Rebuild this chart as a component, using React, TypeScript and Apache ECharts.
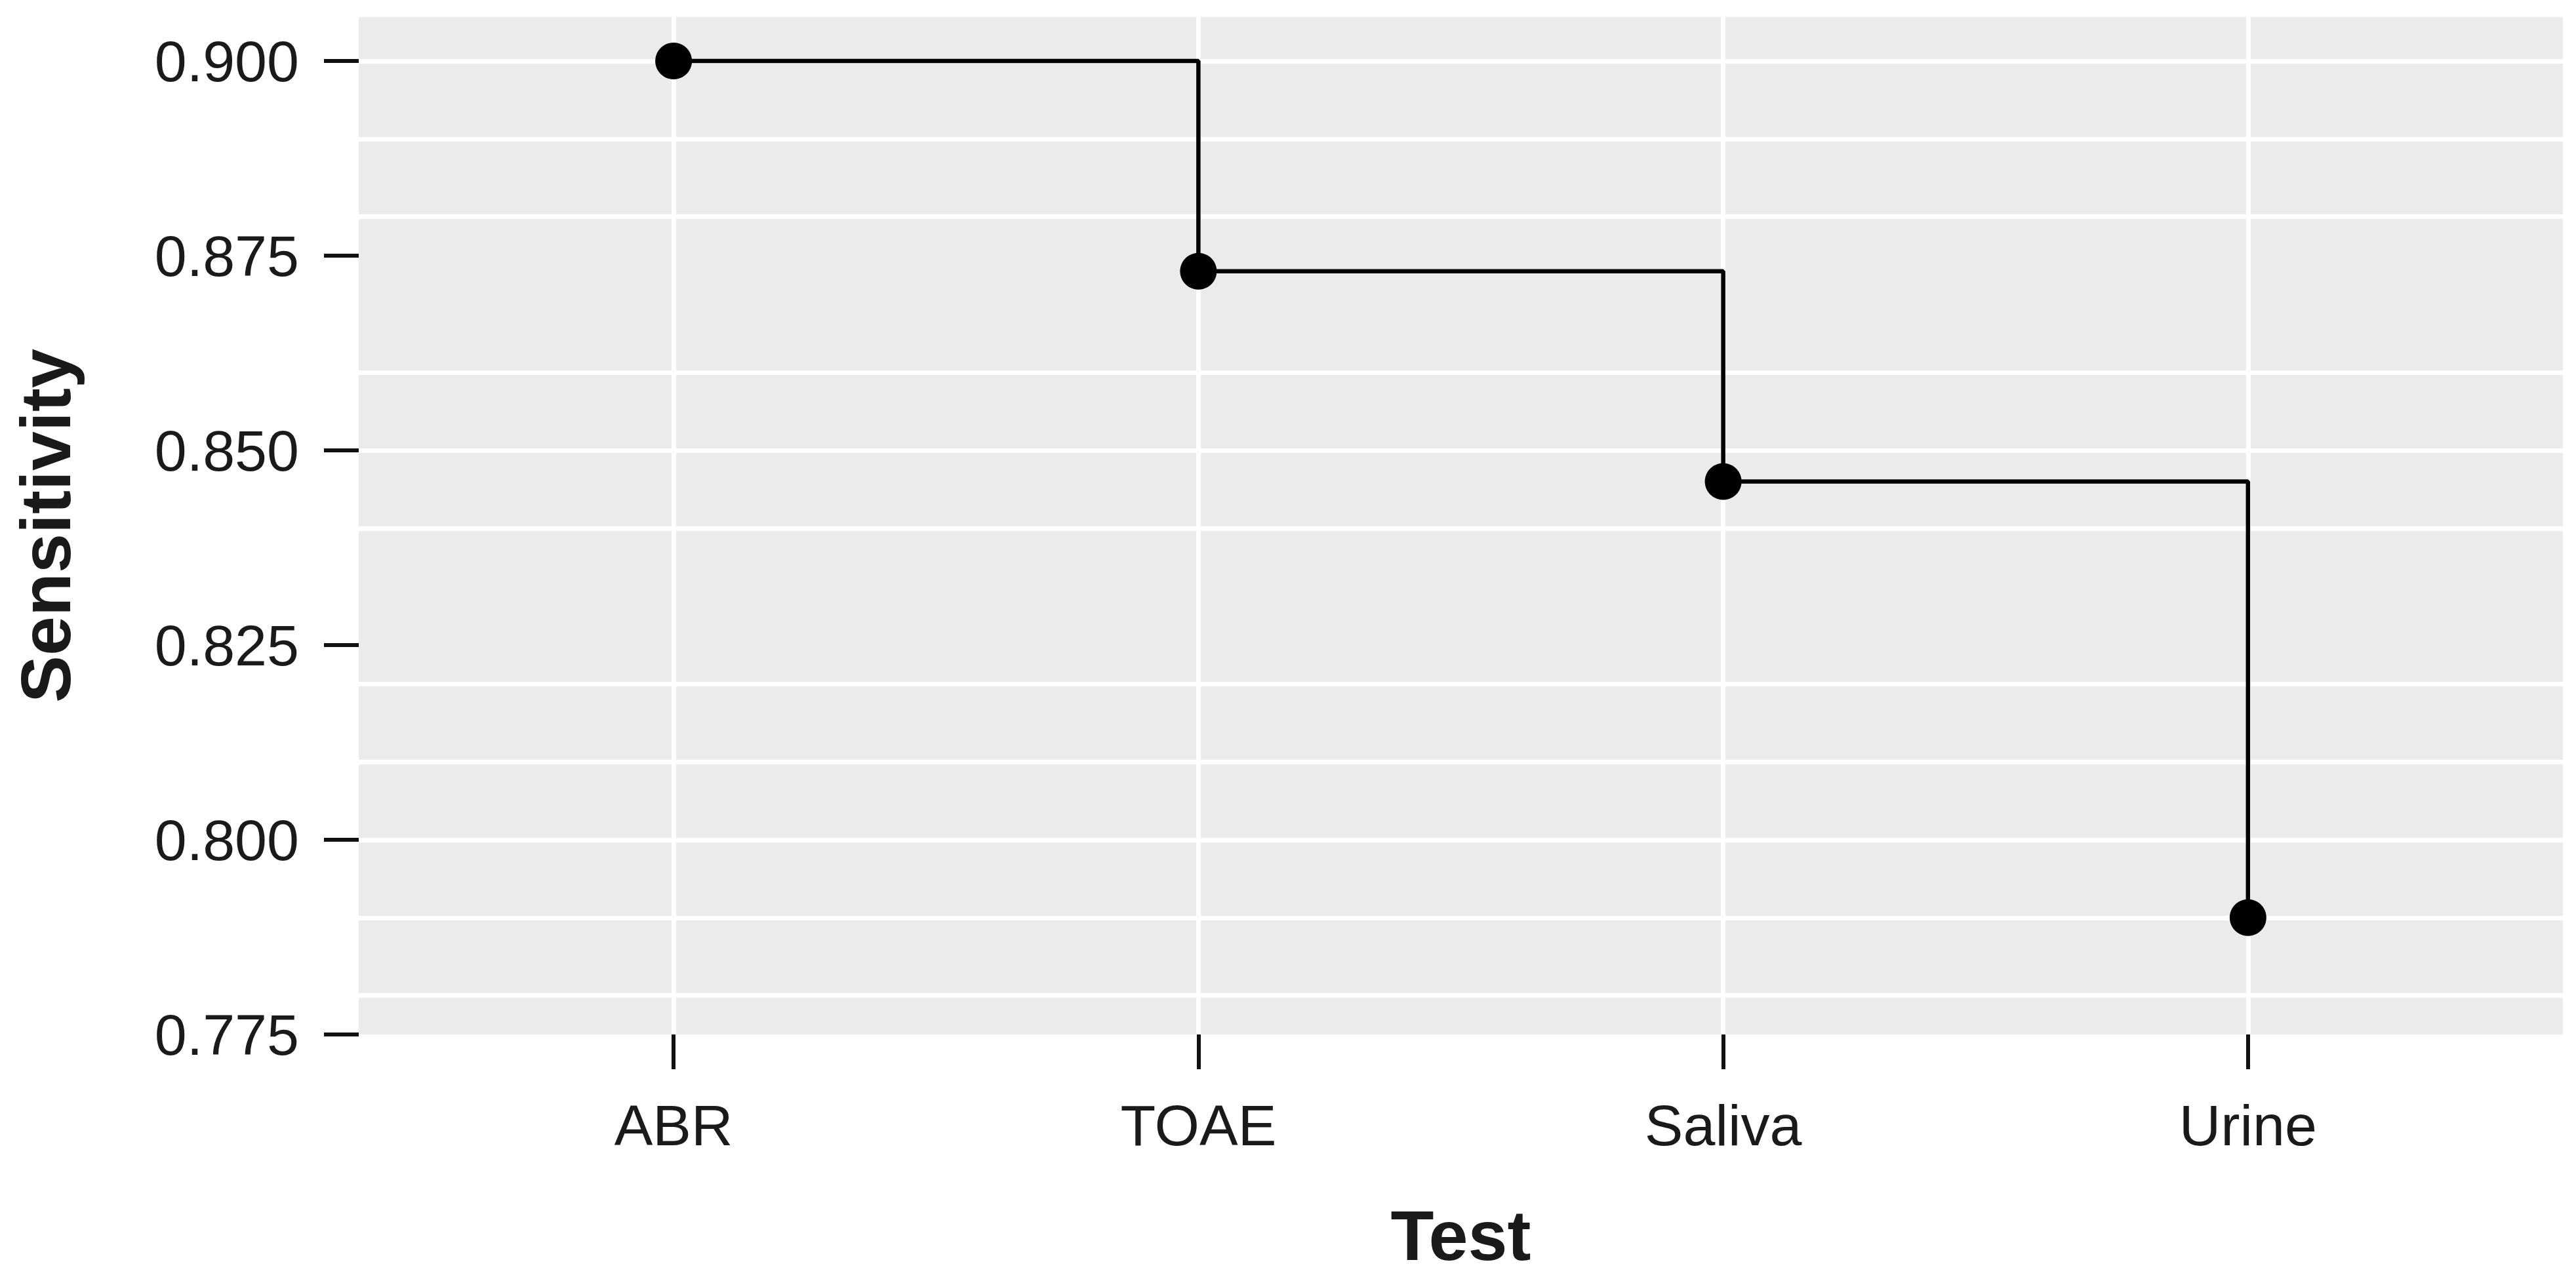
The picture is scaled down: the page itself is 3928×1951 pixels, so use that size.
import React, { useEffect, useRef } from "react";
import * as echarts from "echarts";

const categories = ["ABR", "TOAE", "Saliva", "Urine"];
const sensitivity = [0.9, 0.873, 0.846, 0.79];
const yTicks = [0.775, 0.8, 0.825, 0.85, 0.875, 0.9];
const yMinorGrid = [0.7875, 0.8125, 0.8375, 0.8625, 0.8875];
const xTitle = "Test";
const yTitle = "Sensitivity";

const FONT = "'Liberation Sans', Arial, Helvetica, sans-serif";

export default function App() {
  const ref = useRef<HTMLDivElement>(null);
  useEffect(() => {
    if (!ref.current) return;
    const chart = echarts.init(ref.current, null, { renderer: "svg" });
    const xPos = categories.map((_, i) => i + 1);
    const points = xPos.map((x, i) => [x, sensitivity[i]]);
    const gridLines = [
      ...xPos.map((x) => ({ xAxis: x })),
      ...yTicks.map((y) => ({ yAxis: y })),
      ...yMinorGrid.map((y) => ({ yAxis: y })),
    ];
    chart.setOption({
      animation: false,
      backgroundColor: "#ffffff",
      grid: {
        left: 547,
        right: 20,
        top: 26,
        bottom: 373,
        show: true,
        backgroundColor: "#EBEBEB",
        borderWidth: 0,
      },
      xAxis: {
        type: "value",
        min: 0.4,
        max: 4.6,
        axisLine: { show: false },
        splitLine: { show: false },
        axisTick: {
          show: true,
          customValues: xPos,
          length: 53,
          lineStyle: { color: "#111", width: 6 },
        },
        axisLabel: {
          customValues: xPos,
          formatter: (v: number) => categories[Math.round(v) - 1] ?? "",
          fontFamily: FONT,
          fontSize: 88,
          color: "#1a1a1a",
          margin: 94,
        },
        name: xTitle,
        nameLocation: "middle",
        nameGap: 252,
        nameTextStyle: {
          fontFamily: FONT,
          fontSize: 108,
          fontWeight: "bold",
          color: "#1a1a1a",
        },
      },
      yAxis: {
        type: "value",
        min: 0.775,
        max: 0.90564,
        axisLine: { show: false },
        splitLine: { show: false },
        axisTick: {
          show: true,
          customValues: yTicks,
          length: 53,
          lineStyle: { color: "#111", width: 6 },
        },
        axisLabel: {
          customValues: yTicks,
          formatter: (v: number) => v.toFixed(3),
          fontFamily: FONT,
          fontSize: 88,
          color: "#1a1a1a",
          margin: 91,
        },
        name: yTitle,
        nameLocation: "middle",
        nameGap: 424,
        nameTextStyle: {
          fontFamily: FONT,
          fontSize: 108,
          fontWeight: "bold",
          color: "#1a1a1a",
        },
      },
      series: [
        {
          type: "line",
          step: "end",
          data: points,
          symbol: "circle",
          symbolSize: 56,
          itemStyle: { color: "#000" },
          lineStyle: { color: "#000", width: 6.5 },
          z: 3,
          silent: true,
          markLine: {
            silent: true,
            z: 1,
            symbol: ["none", "none"],
            label: { show: false },
            emphasis: { disabled: true },
            lineStyle: { color: "#ffffff", width: 7, type: "solid" },
            data: gridLines,
          },
        },
      ],
    });
    return () => chart.dispose();
  }, []);
  return (
    <div
      ref={ref}
      style={{ position: "fixed", left: 0, top: 0, width: "100vw", height: "100vh" }}
    />
  );
}
